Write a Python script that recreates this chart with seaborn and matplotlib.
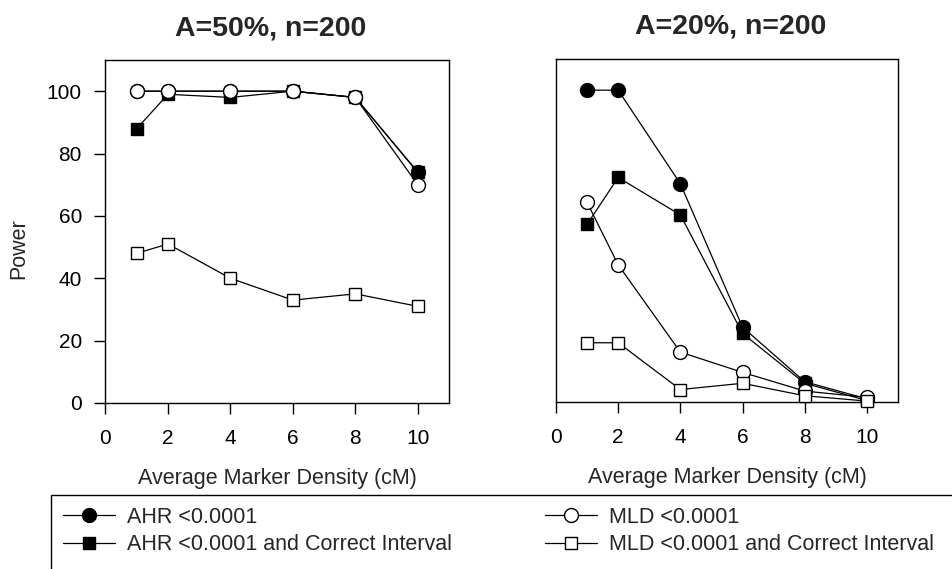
import matplotlib
matplotlib.use("Agg")
import matplotlib.pyplot as plt
import seaborn as sns
import pandas as pd
from matplotlib.patches import Rectangle

sns.set_style("white")
plt.rcParams['font.family'] = ['Liberation Sans', 'DejaVu Sans']

density = [1, 2, 4, 6, 8, 10]
x_ticks = [0, 2, 4, 6, 8, 10]
y_ticks = [0, 20, 40, 60, 80, 100]

# Panel A=50%
ahr_50 = [100, 100, 100, 100, 98, 74]
ahr_ci_50 = [88, 99, 98, 100, 98, 74]
mld_50 = [100, 100, 100, 100, 98, 70]
mld_ci_50 = [48, 51, 40, 33, 35, 31]

# Panel A=20%
ahr_20 = [100, 100, 70, 24, 6.5, 1]
ahr_ci_20 = [57, 72, 60, 22, 6, 0.5]
mld_20 = [64, 44, 16, 9.5, 3.5, 1.5]
mld_ci_20 = [19, 19, 4, 6, 2, 0.3]

titles = ["A=50%, n=200", "A=20%, n=200"]
title_x = [0.48, 0.51]
labels = ["AHR <0.0001", "AHR <0.0001 and Correct Interval",
          "MLD <0.0001", "MLD <0.0001 and Correct Interval"]

styles = [dict(marker='o', mfc='black', ms=10),
          dict(marker='s', mfc='black', ms=8.5),
          dict(marker='o', mfc='white', ms=10),
          dict(marker='s', mfc='white', ms=8.5)]

TICK_FS = 15
LABEL_FS = 15.5
LEG_FS = 15.5

W, H = 953, 569
fig = plt.figure(figsize=(W / 100, H / 100), dpi=100)
axL = fig.add_axes([105.5 / W, 1 - 403 / H, (449 - 105.5) / W, (403 - 60) / H])
axR = fig.add_axes([556 / W, 1 - 402 / H, (898 - 556) / W, (402 - 59) / H])

panels = [(axL, [ahr_50, ahr_ci_50, mld_50, mld_ci_50]),
          (axR, [ahr_20, ahr_ci_20, mld_20, mld_ci_20])]

handles = []
for i, (ax, series) in enumerate(panels):
    for j, (vals, st, lab) in enumerate(zip(series, styles, labels)):
        df = pd.DataFrame({"x": density, "y": vals})
        sns.lineplot(data=df, x="x", y="y", ax=ax, color='black', lw=0.9,
                     marker=st['marker'], markerfacecolor=st['mfc'],
                     markeredgecolor='black', markeredgewidth=1.0,
                     markersize=st['ms'], clip_on=False, zorder=3 + j,
                     label=lab, legend=False)
    ax.set_xlim(0, 11)
    ax.set_ylim(0, 110)
    ax.set_xticks(x_ticks)
    ax.set_xticklabels([str(t) for t in x_ticks], fontsize=TICK_FS)
    ax.set_xlabel("Average Marker Density (cM)", fontsize=LABEL_FS, labelpad=14)
    ax.set_title(titles[i], fontsize=20.5, fontweight='bold', pad=18,
                 x=title_x[i])
    for s in ax.spines.values():
        s.set_color('black')
        s.set_linewidth(1.0)
    ax.tick_params(axis='x', direction='out', length=8, width=1, pad=11,
                   bottom=True, colors='black')
    if i == 0:
        ax.set_yticks(y_ticks)
        ax.set_yticklabels([str(t) for t in y_ticks], fontsize=TICK_FS)
        ax.tick_params(axis='y', direction='out', length=8, width=1, pad=9,
                       left=True, colors='black')
        ax.set_ylabel("Power", fontsize=LABEL_FS)
        ax.yaxis.set_label_coords(-0.222, 0.45)
    else:
        ax.set_yticks([])
        ax.set_ylabel("")
    if i == 0:
        handles = ax.get_lines()[:4]

# legend frame (extends past figure edge as in reference)
fig.patches.append(Rectangle((51 / W, -0.05), 1.1, (1 - 495 / H) + 0.05,
                             transform=fig.transFigure, fill=False,
                             edgecolor='black', linewidth=1.0))

leg_kw = dict(frameon=False, fontsize=LEG_FS, loc='upper left',
              handlelength=2.4, handletextpad=0.55, labelspacing=0.3,
              borderaxespad=0, borderpad=0)
leg1 = fig.legend(handles[:2], labels[:2],
                  bbox_to_anchor=(63 / W, 1 - 507 / H), **leg_kw)
leg2 = fig.legend(handles[2:], labels[2:],
                  bbox_to_anchor=(545 / W, 1 - 507 / H), **leg_kw)

fig.savefig("out.png", dpi=100, facecolor='white')
